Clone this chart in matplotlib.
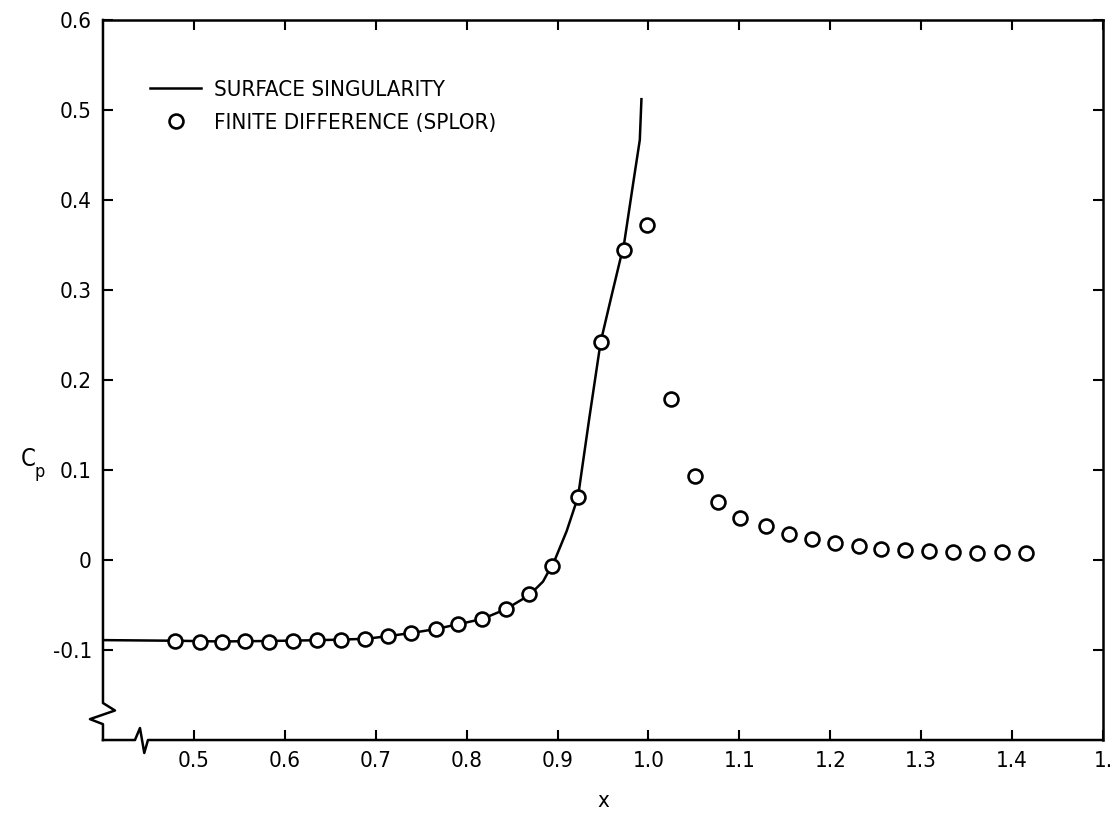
import numpy as np
import matplotlib.pyplot as plt

# surface singularity curve
x_line = [0.40, 0.48, 0.53, 0.58, 0.63, 0.66, 0.69, 0.714, 0.74, 0.766, 0.79, 0.817,
          0.843, 0.869, 0.884, 0.897, 0.910, 0.9225, 0.935, 0.9474, 0.9592, 0.9733,
          0.9832, 0.9905, 0.9923]
y_line = [-0.089, -0.0897, -0.0905, -0.0900, -0.0892, -0.0885, -0.0875, -0.0845, -0.0810,
          -0.0767, -0.0715, -0.0656, -0.0547, -0.0390, -0.0240, 0.0, 0.032, 0.070, 0.158,
          0.242, 0.2926, 0.352, 0.4185, 0.4667, 0.512]

# finite difference (SPLOR) points
x_fd = [0.4794, 0.5062, 0.5309, 0.5566, 0.5831, 0.6088, 0.6357, 0.6614, 0.688, 0.7136,
        0.7386, 0.7662, 0.79, 0.817, 0.843, 0.869, 0.894, 0.9225, 0.9474, 0.9728, 0.9985,
        1.0243, 1.051, 1.076, 1.101, 1.129, 1.1548, 1.1798, 1.2055, 1.2313, 1.2558,
        1.2827, 1.3084, 1.3353, 1.3617, 1.3885, 1.415]
y_fd = [-0.0897, -0.0914, -0.0908, -0.090, -0.0908, -0.090, -0.0889, -0.0889, -0.0878,
        -0.0841, -0.0808, -0.0767, -0.0711, -0.0656, -0.0544, -0.0378, -0.0063, 0.0704,
        0.2419, 0.344, 0.372, 0.1786, 0.0937, 0.0641, 0.047, 0.0381, 0.0285, 0.0233,
        0.0193, 0.0156, 0.0119, 0.0111, 0.010, 0.0093, 0.0081, 0.0085, 0.0074]

xticks = [0.5, 0.6, 0.7, 0.8, 0.9, 1.0, 1.1, 1.2, 1.3, 1.4, 1.5]
xticklabels = ["0.5", "0.6", "0.7", "0.8", "0.9", "1.0", "1.1", "1.2", "1.3", "1.4", "1."]
yticks = [-0.1, 0, 0.1, 0.2, 0.3, 0.4, 0.5, 0.6]
yticklabels = ["-0.1", "0", "0.1", "0.2", "0.3", "0.4", "0.5", "0.6"]

plt.rcParams['font.family'] = ['DejaVu Sans']
plt.rcParams['font.stretch'] = 'condensed'

fig = plt.figure(figsize=(11.12, 8.15), dpi=100)
ax = fig.add_axes([0.0926, 0.092, 0.8993, 0.8835])

ax.plot(x_line, y_line, color='black', linewidth=1.8, label="SURFACE SINGULARITY")
ax.plot(x_fd, y_fd, linestyle='none', marker='o', markersize=10, markerfacecolor='white',
        markeredgecolor='black', markeredgewidth=1.9, label="FINITE DIFFERENCE (SPLOR)")

ax.set_xlim(0.4, 1.5)
ax.set_ylim(-0.2, 0.6)
ax.set_xticks(xticks)
ax.set_xticklabels(xticklabels)
ax.set_yticks(yticks)
ax.set_yticklabels(yticklabels)
ax.tick_params(direction='in', length=7, width=1.5, top=True, right=True,
               labelsize=16, pad=8)

# broken left / bottom axes
ax.spines['left'].set_visible(False)
ax.spines['bottom'].set_visible(False)
for s in ['top', 'right']:
    ax.spines[s].set_linewidth(1.8)
ax.plot([0, 0, 0.012, -0.013, 0, 0], [1, 0.0514, 0.041, 0.029, 0.022, 0],
        transform=ax.transAxes, color='black', linewidth=1.8, clip_on=False)
ax.plot([0, 0.032, 0.037, 0.0413, 0.045, 1], [0, 0, 0.0167, -0.018, 0, 0],
        transform=ax.transAxes, color='black', linewidth=1.8, clip_on=False)

ax.set_xlabel("x", fontsize=16, labelpad=14)
fig.text(0.019, 0.422, "C", fontsize=17, ha='left', va='bottom')
fig.text(0.031, 0.410, "p", fontsize=13, ha='left', va='bottom')

leg = ax.legend(loc='upper left', bbox_to_anchor=(0.027, 0.945), frameon=False,
                fontsize=16, handlelength=2.3, handletextpad=0.6, labelspacing=0.6)

fig.savefig('out.png', dpi=100)
